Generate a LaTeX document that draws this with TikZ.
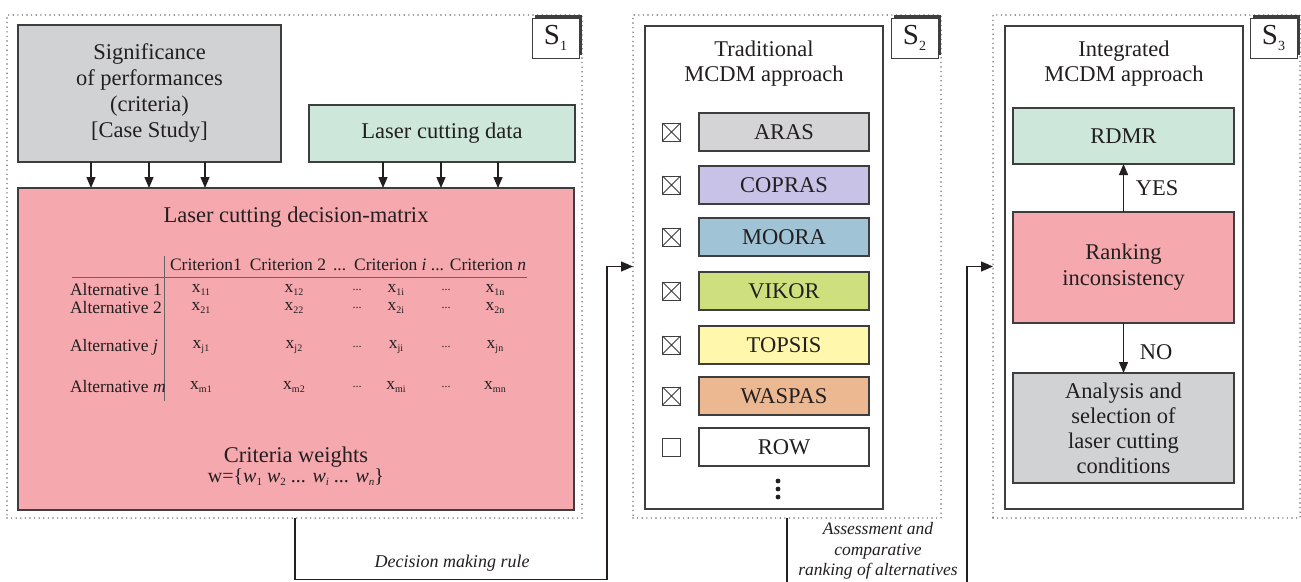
\documentclass[tikz,border=0pt]{standalone}
\usepackage{fontspec}
\setmainfont{Liberation Serif}
\usetikzlibrary{arrows.meta}
\definecolor{boxgray}{RGB}{209,210,212}
\definecolor{boxgreen}{RGB}{205,232,218}
\definecolor{boxpink}{RGB}{245,168,174}
\definecolor{arasc}{RGB}{212,212,214}
\definecolor{coprasc}{RGB}{200,195,230}
\definecolor{moorac}{RGB}{160,195,214}
\definecolor{vikorc}{RGB}{205,224,125}
\definecolor{topsisc}{RGB}{255,247,172}
\definecolor{waspasc}{RGB}{236,184,145}
\definecolor{edge}{RGB}{62,62,62}
\definecolor{dotc}{RGB}{110,110,110}
\definecolor{txt}{RGB}{35,31,32}
\newcommand\lblsub[1]{\raisebox{-0.22em}{\fontsize{14}{14}\selectfont #1}}
\newcommand\xsub[1]{x\raisebox{-3pt}{\fontsize{10}{10}\selectfont #1}}
\newcommand\wsub[1]{\textit{w}\raisebox{-3pt}{\fontsize{11}{11}\selectfont #1}}
\begin{document}
\begin{tikzpicture}[x=1pt,y=-1pt,
  every node/.style={inner sep=0pt,outer sep=0pt,text=txt},
  mainfont/.style={font=\fontsize{22.5}{26}\selectfont},
  box/.style={draw=edge,line width=1.5pt,anchor=north west,align=center,mainfont},
  frame/.style={draw=dotc,line width=1.6pt,dash pattern=on 0pt off 4.6pt,line cap=round,anchor=north west},
  lbl/.style={draw=edge,fill=white,line width=1pt,anchor=north west,minimum width=47pt,minimum height=40pt,font=\fontsize{29}{30}\selectfont},
  arr/.style={draw=txt,line width=1.3pt,-{Triangle[length=11pt,width=9pt]}},
  conn/.style={draw=txt,line width=1.3pt,-{Triangle[length=12pt,width=10pt]}},
  tbl/.style={font=\fontsize{17.5}{19}\selectfont},
  lab/.style={font=\fontsize{18}{21}\selectfont\itshape,align=center},
  meth/.style={box,minimum width=170pt,minimum height=38pt},
  chk/.style={draw=edge,line width=1pt,minimum size=18pt},
]
\useasboundingbox (0,0) rectangle (1301,581);
\fill[white] (0,0) rectangle (1301,581);

% ---------------- S1 ----------------
\node[frame,minimum width=575pt,minimum height=503pt] (f1) at (7,15) {};
\fill[edge] (535,15) rectangle (582,55);
\node[lbl] (l1) at (532,18) {S\lblsub{1}};

\node[box,fill=boxgray,minimum width=263pt,minimum height=137pt] (sig) at (18,25)
  {Significance\\of performances\\(criteria)\\{[}Case Study{]}};
\node[box,fill=boxgreen,minimum width=266pt,minimum height=57pt] (data) at (309,105)
  {Laser cutting data};
\node[box,fill=boxpink,minimum width=556pt,minimum height=322pt] (mat) at (18,188) {};

\foreach \xx/\nm in {91/a1,149/a2,205/a3} {
  \coordinate (\nm) at (\xx,0);
  \draw[arr] (\nm |- sig.south) -- (\nm |- mat.north);
}
\foreach \xx/\nm in {383/b1,441/b2,498/b3} {
  \coordinate (\nm) at (\xx,0);
  \draw[arr] (\nm |- data.south) -- (\nm |- mat.north);
}

\node[mainfont] (mtitle) at (296,217) {Laser cutting decision-matrix};

% table
\draw[draw=edge!80,line width=0.8pt] (72,277) -- (527,277);
\draw[draw=edge!80,line width=0.8pt] (164,256) -- (164,401);
\node[tbl,anchor=west] (hdr) at (170,265)
  {Criterion1\hspace{0.45em}Criterion 2\hspace{0.4em}...\hspace{0.45em}Criterion \textit{i} ... Criterion \textit{n}};
\foreach \yy/\r/\rl in {290/1/1,308/2/2,347/j/\textit{j},387/m/\textit{m}} {
  \node[tbl,anchor=west] (alt\r) at (70,\yy) {Alternative \rl};
  \node[tbl] (v\r1) at (201,\yy) {\xsub{\r1}};
  \node[tbl] (v\r2) at (294,\yy) {\xsub{\r2}};
  \node[tbl,font=\fontsize{12}{12}\selectfont] (d\r1) at (357,\yy) {...};
  \node[tbl] (v\r i) at (396,\yy) {\xsub{\r i}};
  \node[tbl,font=\fontsize{12}{12}\selectfont] (d\r2) at (446,\yy) {...};
  \node[tbl] (v\r n) at (495,\yy) {\xsub{\r n}};
}

\node[mainfont] (cw) at (296,457) {Criteria weights};
\node[font=\fontsize{20}{22}\selectfont] (wv) at (296,477)
  {w=\{\wsub{1} \wsub{2} ... \wsub{\textit{i}} ... \wsub{\textit{n}}\}};

% ---------------- S2 ----------------
\node[frame,minimum width=308pt,minimum height=503pt] (f2) at (633,15) {};
\fill[edge] (894,15) rectangle (941,55);
\node[lbl] (l2) at (891,18) {S\lblsub{2}};
\node[draw=edge,line width=1.5pt,anchor=north west,minimum width=238pt,minimum height=483pt] (trad) at (645,26) {};
\node[align=center,font=\fontsize{22.5}{25}\selectfont] (tradt) at (764,64) {Traditional\\MCDM approach};

\foreach \tp/\nm/\col/\ck in {113/ARAS/arasc/1,166/COPRAS/coprasc/1,218/MOORA/moorac/1,272/VIKOR/vikorc/1,326/TOPSIS/topsisc/1,377/WASPAS/waspasc/1,428/ROW/white/0} {
  \node[meth,fill=\col] (m\nm) at (699,\tp) {\nm};
  \node[chk] (k\nm) at (671.5,\tp+19) {};
  \ifnum\ck=1
    \draw[edge,line width=0.8pt] (k\nm.north west) -- (k\nm.south east) (k\nm.north east) -- (k\nm.south west);
  \fi
}
\fill[txt] (778,481) circle (2.4) (778,489) circle (2.4) (778,497) circle (2.4);

% ---------------- S3 ----------------
\node[frame,minimum width=307pt,minimum height=503pt] (f3) at (993,15) {};
\fill[edge] (1253,15) rectangle (1300,55);
\node[lbl] (l3) at (1250,18) {S\lblsub{3}};
\node[draw=edge,line width=1.5pt,anchor=north west,minimum width=238pt,minimum height=483pt] (integ) at (1005,26) {};
\node[align=center,font=\fontsize{22.5}{25}\selectfont] (integt) at (1124,64) {Integrated\\MCDM approach};

\node[box,fill=boxgreen,minimum width=221pt,minimum height=56pt] (rdmr) at (1013,108) {RDMR};
\node[box,fill=boxpink,minimum width=221pt,minimum height=111pt] (rank) at (1013,212) {Ranking\\inconsistency};
\node[box,fill=boxgray,minimum width=221pt,minimum height=110pt,font=\fontsize{22.5}{25}\selectfont] (anal) at (1013,373)
  {Analysis and\\selection of\\laser cutting\\conditions};
\draw[arr] (rank.north) -- (rdmr.south);
\draw[arr] (rank.south) -- (anal.north);
\node[mainfont] (yes) at (1157,188) {YES};
\node[mainfont] (no) at (1156,352) {NO};

% ---------------- connectors ----------------
\coordinate (c1a) at (295,579.5);
\coordinate (c1b) at (607,579.5);
\draw[conn] (c1a |- f1.south) -- (c1a) -- (c1b) |- (f2.west);
\node[lab] (dmr) at (452,563) {Decision making rule};

\coordinate (c2a) at (787,585);
\coordinate (c2b) at (967,585);
\draw[conn] (c2a |- f2.south) -- (c2a) -- (c2b) |- (f3.west);
\node[lab,font=\fontsize{17.5}{20.5}\selectfont\itshape] (acr) at (878,551) {Assessment and\\comparative\\ranking of alternatives};
\end{tikzpicture}
\end{document}
